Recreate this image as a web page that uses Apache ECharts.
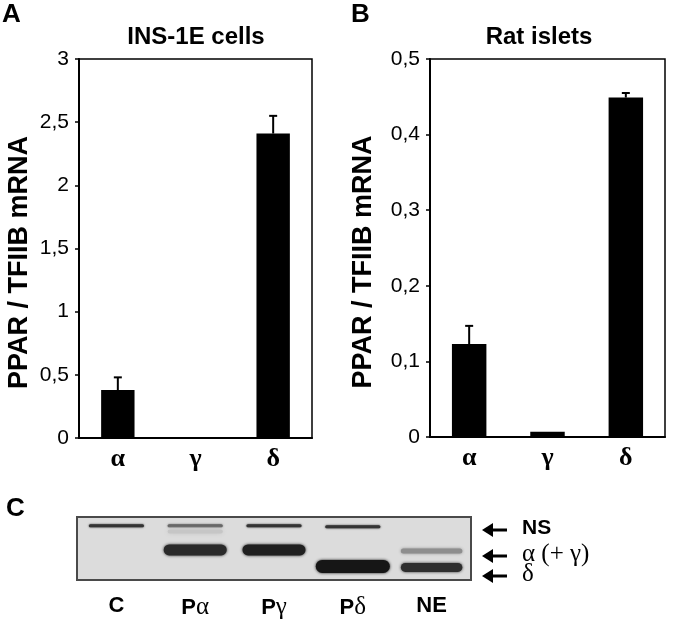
<!DOCTYPE html>
<html>
<head>
<meta charset="utf-8">
<script src="https://cdn.jsdelivr.net/npm/echarts@6/dist/echarts.min.js"></script>
<style>
html,body{margin:0;padding:0;background:#fff;}
#c{width:673px;height:620px;}
</style>
</head>
<body>
<div id="c"></div>
<script>
// ---- data ----
var categories = ['α', 'γ', 'δ'];
var insValues = [0.38, 0, 2.41];
var insErrors = [0.10, 0, 0.14];
var ratValues = [0.123, 0.007, 0.449];
var ratErrors = [0.024, 0, 0.006];
var insTicks = { min: 0, max: 3, interval: 0.5 };
var ratTicks = { min: 0, max: 0.5, interval: 0.1 };

// gel (panel C)
var laneNames = ['C', 'Pα', 'Pγ', 'Pδ', 'NE'];
var bandLane      = [0, 1, 1, 1, 2, 2, 3, 3, 4, 4];
var bandMigration = [9, 9, 15, 34, 9, 34, 10, 51, 35, 52];
var bandDarkness  = [0.85, 0.6, 0.12, 0.9, 0.85, 0.95, 0.85, 1.0, 0.4, 0.88];
var bandKind      = ['ns', 'ns', 'faint', 'main', 'ns', 'main', 'ns', 'delta', 'ne', 'ne2'];
var markerLabels = ['NS', 'α (+ γ)', 'δ'];

// ---- styles ----
var bandStyle = {
  ns:    { w: 0.70, h: 3,  blur: 2, dx: 0 },
  faint: { w: 0.70, h: 4,  blur: 4, dx: 0 },
  main:  { w: 0.80, h: 11, blur: 3, dx: 0 },
  delta: { w: 0.94, h: 13, blur: 3, dx: 0.0 },
  ne:    { w: 0.78, h: 5,  blur: 3, dx: 0 },
  ne2:   { w: 0.78, h: 9,  blur: 3, dx: 0 }
};

var gelData = bandLane.map(function (l, i) {
  return [l, bandMigration[i], bandDarkness[i], i];
});

function commaFmt(v) { return String(Math.round(v * 10) / 10).replace('.', ','); }

var tickFont = { fontFamily: 'Liberation Sans', fontSize: 21, color: '#000' };

function barAxisX(gi) {
  return {
    type: 'category', gridIndex: gi, data: categories,
    axisLine: { lineStyle: { color: '#000', width: 2 } },
    axisTick: { show: false },
    axisLabel: { margin: 8, fontFamily: 'Liberation Serif', fontWeight: 'bold', fontSize: 26, color: '#000' }
  };
}
function barAxisY(gi, t, gap, fmt) {
  return {
    type: 'value', gridIndex: gi, min: t.min, max: t.max, interval: t.interval,
    name: 'PPAR / TFIIB mRNA', nameLocation: 'middle', nameRotate: 90, nameGap: gap,
    nameTextStyle: { fontFamily: 'Liberation Sans', fontWeight: 'bold', fontSize: 27, color: '#000', padding: [0, 28, 0, 0] },
    splitLine: { show: false },
    axisLine: { show: true, lineStyle: { color: '#000', width: 2 } },
    axisTick: { show: true, length: 4, lineStyle: { color: '#000', width: 1.5 } },
    axisLabel: Object.assign({ margin: 10, formatter: fmt }, tickFont)
  };
}

function errRender(vals, errs) {
  return function (params, api) {
    var i = api.value(0);
    var v = vals[i], e = errs[i];
    if (!e) return null;
    var p0 = api.coord([i, v]);
    var p1 = api.coord([i, v + e]);
    return {
      type: 'group',
      children: [
        { type: 'line', shape: { x1: p0[0], y1: p0[1], x2: p1[0], y2: p1[1] }, style: { stroke: '#000', lineWidth: 2 } },
        { type: 'line', shape: { x1: p1[0] - 4, y1: p1[1], x2: p1[0] + 4, y2: p1[1] }, style: { stroke: '#000', lineWidth: 2 } }
      ]
    };
  };
}

function arrow(x, y) {
  return {
    type: 'group', left: x, top: y - 7,
    children: [
      { type: 'polygon', shape: { points: [[0, 7], [11, 0], [11, 14]] }, style: { fill: '#000' } },
      { type: 'rect', shape: { x: 9, y: 5.5, width: 16, height: 3 }, style: { fill: '#000' } }
    ]
  };
}

var chart = echarts.init(document.getElementById('c'), null, { renderer: 'canvas' });

var option = {
  backgroundColor: '#fff',
  animation: false,
  title: [
    { text: 'INS-1E cells', left: 191, top: 20, textAlign: 'center',
      textStyle: { fontFamily: 'Liberation Sans', fontWeight: 'bold', fontSize: 24, color: '#000' } },
    { text: 'Rat islets', left: 534, top: 20, textAlign: 'center',
      textStyle: { fontFamily: 'Liberation Sans', fontWeight: 'bold', fontSize: 24, color: '#000' } }
  ],
  grid: [
    { left: 79, top: 59, width: 233, height: 379, show: true, borderColor: '#000', borderWidth: 1.5, backgroundColor: 'transparent' },
    { left: 430, top: 59, width: 235, height: 378, show: true, borderColor: '#000', borderWidth: 1.5, backgroundColor: 'transparent' },
    { left: 77, top: 517, width: 394, height: 65, show: true, borderColor: '#4a4a4a', borderWidth: 2, backgroundColor: '#dcdcdc' }
  ],
  xAxis: [
    barAxisX(0),
    barAxisX(1),
    {
      type: 'category', gridIndex: 2, data: laneNames,
      axisLine: { show: false }, axisTick: { show: false },
      axisLabel: {
        margin: 15,
        formatter: function (v) {
          if (v.charAt(0) === 'P') return '{p|P}{g|' + v.slice(1) + '}';
          return '{p|' + v + '}';
        },
        rich: {
          p: { fontFamily: 'Liberation Sans', fontWeight: 'bold', fontSize: 22, color: '#000' },
          g: { fontFamily: 'Liberation Serif', fontSize: 25, color: '#000' }
        }
      }
    }
  ],
  yAxis: [
    barAxisY(0, insTicks, 46, function (v) { return commaFmt(v); }),
    barAxisY(1, ratTicks, 53, function (v) { return commaFmt(v); }),
    { type: 'value', gridIndex: 2, min: 0, max: 65, inverse: true, show: false }
  ],
  series: [
    { type: 'bar', xAxisIndex: 0, yAxisIndex: 0, data: insValues, barWidth: '43%',
      itemStyle: { color: '#000' } },
    { type: 'custom', xAxisIndex: 0, yAxisIndex: 0, data: categories.map(function (c, i) { return [i]; }),
      renderItem: errRender(insValues, insErrors), z: 3 },
    { type: 'bar', xAxisIndex: 1, yAxisIndex: 1, data: ratValues, barWidth: '44%',
      itemStyle: { color: '#000' } },
    { type: 'custom', xAxisIndex: 1, yAxisIndex: 1, data: categories.map(function (c, i) { return [i]; }),
      renderItem: errRender(ratValues, ratErrors), z: 3 },
    { type: 'custom', xAxisIndex: 2, yAxisIndex: 2, data: gelData, z: 3,
      renderItem: function (params, api) {
        var lane = api.value(0), mig = api.value(1), dark = api.value(2), idx = api.value(3);
        var st = bandStyle[bandKind[idx]];
        var c = api.coord([lane, mig]);
        var bw = api.size([1, 0])[0];
        var w = bw * st.w;
        var g = Math.round(200 * (1 - dark) + 22);
        var col = 'rgb(' + g + ',' + g + ',' + g + ')';
        return {
          type: 'rect',
          shape: { x: c[0] - w / 2 + st.dx * bw, y: c[1] - st.h / 2, width: w, height: st.h, r: st.h / 2 },
          style: { fill: col, shadowBlur: st.blur, shadowColor: col }
        };
      }
    }
  ],
  graphic: [
    { type: 'text', left: 2, top: 2, style: { text: 'A', font: 'bold 26px "Liberation Sans"', fill: '#000' } },
    { type: 'text', left: 351, top: 2, style: { text: 'B', font: 'bold 26px "Liberation Sans"', fill: '#000' } },
    { type: 'text', left: 6, top: 496, style: { text: 'C', font: 'bold 26px "Liberation Sans"', fill: '#000' } },
    arrow(482, 530),
    arrow(482, 556),
    arrow(482, 576),
    { type: 'text', left: 522, top: 518, style: { text: markerLabels[0], font: 'bold 21px "Liberation Sans"', fill: '#000' } },
    { type: 'text', left: 522, top: 542, style: { text: markerLabels[1], font: '25px "Liberation Serif"', fill: '#000' } },
    { type: 'text', left: 522, top: 562, style: { text: markerLabels[2], font: '25px "Liberation Serif"', fill: '#000' } }
  ]
};
chart.setOption(option);
</script>
</body>
</html>
